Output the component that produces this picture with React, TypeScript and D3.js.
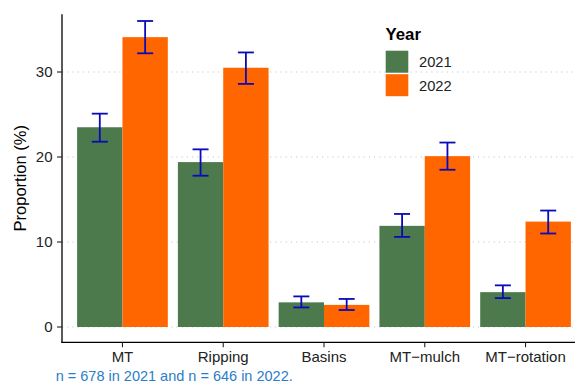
import React from "react";
import * as d3 from "d3";

// Tillage practice categories and adoption by survey year
const categories = ["MT", "Ripping", "Basins", "MT\u2212mulch", "MT\u2212rotation"];
const years = ["2021", "2022"];
const prop2021 = [23.5, 19.4, 2.9, 11.9, 4.1];
const prop2022 = [34.1, 30.5, 2.6, 20.1, 12.4];
const low2021 = [21.8, 17.8, 2.3, 10.6, 3.4];
const high2021 = [25.1, 20.9, 3.6, 13.3, 4.9];
const low2022 = [32.2, 28.6, 2.0, 18.5, 11.0];
const high2022 = [36.0, 32.3, 3.3, 21.7, 13.7];
const yTicks = [0, 10, 20, 30];
const caption = "n = 678 in 2021 and n = 646 in 2022.";

const W = 575;
const H = 383;
const yearColors = ["#4D7A4D", "#FF6600"];
const errColor = "#0A0AB8";
const font = "'Liberation Sans', Arial, sans-serif";

export default function App() {
  const x = d3.scalePoint<string>().domain(categories).range([62, 586]).padding(0.6);
  const y = d3.scaleLinear().domain([0, 30]).range([327, 72]);
  const step = x.step();
  const barW = (step * 0.9) / 2;
  const capHalf = 8;
  const panelTop = y(36.8);
  const panelBottom = y(-1.8);
  const left = 62;
  const right = 586;

  const series = [
    { vals: prop2021, lo: low2021, hi: high2021, offset: -barW },
    { vals: prop2022, lo: low2022, hi: high2022, offset: 0 },
  ];

  return (
    <svg width={W} height={H} style={{ display: "block", position: "absolute", left: 0, top: 0 }} fontFamily={font}>
      <rect width={W} height={H} fill="#fff" />
      {/* dotted major gridlines */}
      {yTicks.map((t) => (
        <line key={"g" + t} x1={left} x2={right} y1={y(t)} y2={y(t)} stroke="#c8c8c8" strokeWidth={1.1} strokeDasharray="1.2 4" />
      ))}
      {/* bars */}
      {series.map((s, si) =>
        categories.map((c, i) => (
          <rect
            key={"b" + si + i}
            x={(x(c) as number) + s.offset}
            y={y(s.vals[i])}
            width={barW}
            height={y(0) - y(s.vals[i])}
            fill={yearColors[si]}
          />
        ))
      )}
      {/* error bars */}
      {series.map((s, si) =>
        categories.map((c, i) => {
          const cx = (x(c) as number) + s.offset + barW / 2;
          return (
            <g key={"e" + si + i} stroke={errColor} strokeWidth={1.8}>
              <line x1={cx} x2={cx} y1={y(s.lo[i])} y2={y(s.hi[i])} />
              <line x1={cx - capHalf} x2={cx + capHalf} y1={y(s.lo[i])} y2={y(s.lo[i])} />
              <line x1={cx - capHalf} x2={cx + capHalf} y1={y(s.hi[i])} y2={y(s.hi[i])} />
            </g>
          );
        })
      )}
      {/* axes */}
      <line x1={left} x2={left} y1={panelTop} y2={panelBottom + 0.6} stroke="#000" strokeWidth={1.3} />
      <line x1={left - 0.6} x2={right} y1={panelBottom} y2={panelBottom} stroke="#000" strokeWidth={1.3} />
      {yTicks.map((t) => (
        <g key={"yt" + t}>
          <line x1={left - 5} x2={left} y1={y(t)} y2={y(t)} stroke="#222" strokeWidth={1.1} />
          <text x={52.5} y={y(t)} dy="0.36em" textAnchor="end" fontSize={15} fill="#222">
            {t}
          </text>
        </g>
      ))}
      {categories.map((c) => (
        <g key={"xt" + c}>
          <line x1={x(c)} x2={x(c)} y1={panelBottom} y2={panelBottom + 5} stroke="#222" strokeWidth={1.1} />
          <text x={x(c)} y={362} textAnchor="middle" fontSize={15} fill="#222">
            {c}
          </text>
        </g>
      ))}
      <text transform={`translate(26, ${(panelTop + panelBottom) / 2}) rotate(-90)`} textAnchor="middle" fontSize={16.5} fill="#000">
        Proportion (%)
      </text>
      {/* legend */}
      <text x={385.5} y={40} fontSize={16.8} fontWeight="bold" fill="#000">
        Year
      </text>
      {years.map((yr, i) => (
        <g key={"l" + yr}>
          <rect x={385.7} y={50.7 + i * 23.5} width={22.6} height={22} fill={yearColors[i]} />
          <text x={419} y={66.7 + i * 24} fontSize={14.7} fill="#222">
            {yr}
          </text>
        </g>
      ))}
      <text x={55.7} y={381} fontSize={14.5} fill="#2A7DC8">
        {caption}
      </text>
    </svg>
  );
}
